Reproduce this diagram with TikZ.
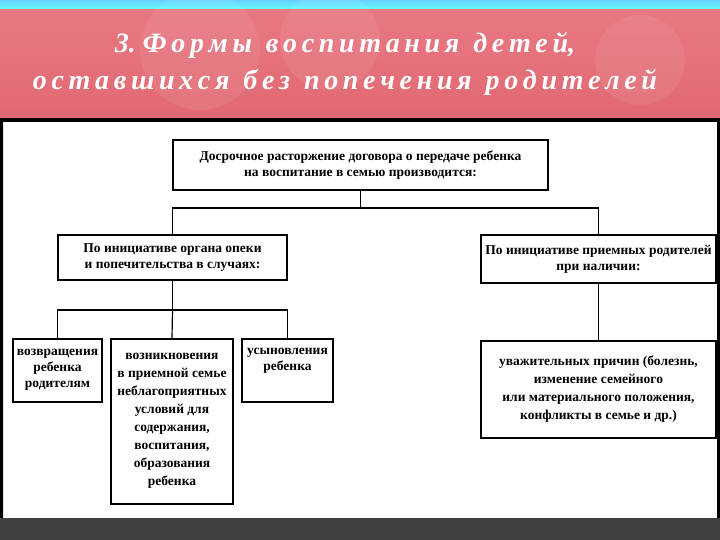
\documentclass[tikz,border=0pt]{standalone}
\usepackage{fontspec}
\setmainfont{Liberation Serif}
\begin{document}
\begin{tikzpicture}[x=1pt,y=-1pt,
  bx/.style={draw=black,line width=1.5pt,fill=white,align=center,font=\fontsize{13.5}{16}\selectfont\bfseries,inner sep=1pt},
  ln/.style={line width=1.2pt}]
\useasboundingbox (0,0) rectangle (720,540);
\fill[top color=cyan!70!blue!60,bottom color=cyan!60] (0,0) rectangle (720,10);
\shade[top color={rgb,255:red,232;green,120;blue,130},bottom color={rgb,255:red,225;green,105;blue,115}] (0,10) rectangle (720,118);
\fill[white,opacity=0.07] (200,50) circle (60) (330,40) circle (50) (640,60) circle (45);
\node[text=white,font=\fontsize{28}{32}\selectfont\bfseries\itshape] (t1) at (345,45) {3.\ Ф\,о\,р\,м\,ы\ \ в\,о\,с\,п\,и\,т\,а\,н\,и\,я\ \ д\,е\,т\,е\,й,};
\node[text=white,font=\fontsize{28}{32}\selectfont\bfseries\itshape] (t2) at (345,82) {о\,с\,т\,а\,в\,ш\,и\,х\,с\,я\ \ б\,е\,з\ \ п\,о\,п\,е\,ч\,е\,н\,и\,я\ \ р\,о\,д\,и\,т\,е\,л\,е\,й};
\fill[black] (0,118) rectangle (720,122);
\fill[white] (3,122) rectangle (717,518);
\fill[black] (0,122) rectangle (3,518) (717,122) rectangle (720,518);
\fill[black!75] (0,518) rectangle (720,540);
\node[bx,minimum width=375,minimum height=50] (top) at (360.5,165) {Досрочное расторжение договора о передаче ребенка\\на воспитание в семью производится:};
\node[bx,minimum width=229,minimum height=45] (L) at (172.5,257.5) {По инициативе органа опеки\\и попечительства в случаях:};
\node[bx,minimum width=235,minimum height=48] (R) at (598.5,259) {По инициативе приемных родителей\\при наличии:};
\node[bx,minimum width=89,minimum height=63,anchor=north] (A) at (57.5,338) {возвращения\\ребенка\\родителям};
\node[bx,minimum width=122,minimum height=165,anchor=north,font=\fontsize{13.5}{18}\selectfont\bfseries] (B) at (172,338) {возникновения\\в приемной семье\\неблагоприятных\\условий для\\содержания,\\воспитания,\\образования\\ребенка};
\node[bx,minimum width=91,minimum height=63,anchor=north,text depth=22pt] (C) at (287.5,338) {усыновления\\ребенка};
\node[bx,minimum width=235,minimum height=97,anchor=north,font=\fontsize{13.5}{18}\selectfont\bfseries] (D) at (598.5,340) {уважительных причин (болезнь,\\изменение семейного\\или материального положения,\\конфликты в семье и др.)};
\coordinate (j1) at (360.5,208);
\coordinate (j2) at (172.5,310);
\draw[ln] (top.south) -- (j1);
\draw[ln] (L.north) |- (j1) -| (R.north);
\draw[ln] (L.south) -- (j2);
\draw[ln] (A.north) |- (j2) -| (C.north);
\draw[ln] (j2) -- (B.north);
\draw[ln] (R.south) -- (D.north);
\end{tikzpicture}
\end{document}
